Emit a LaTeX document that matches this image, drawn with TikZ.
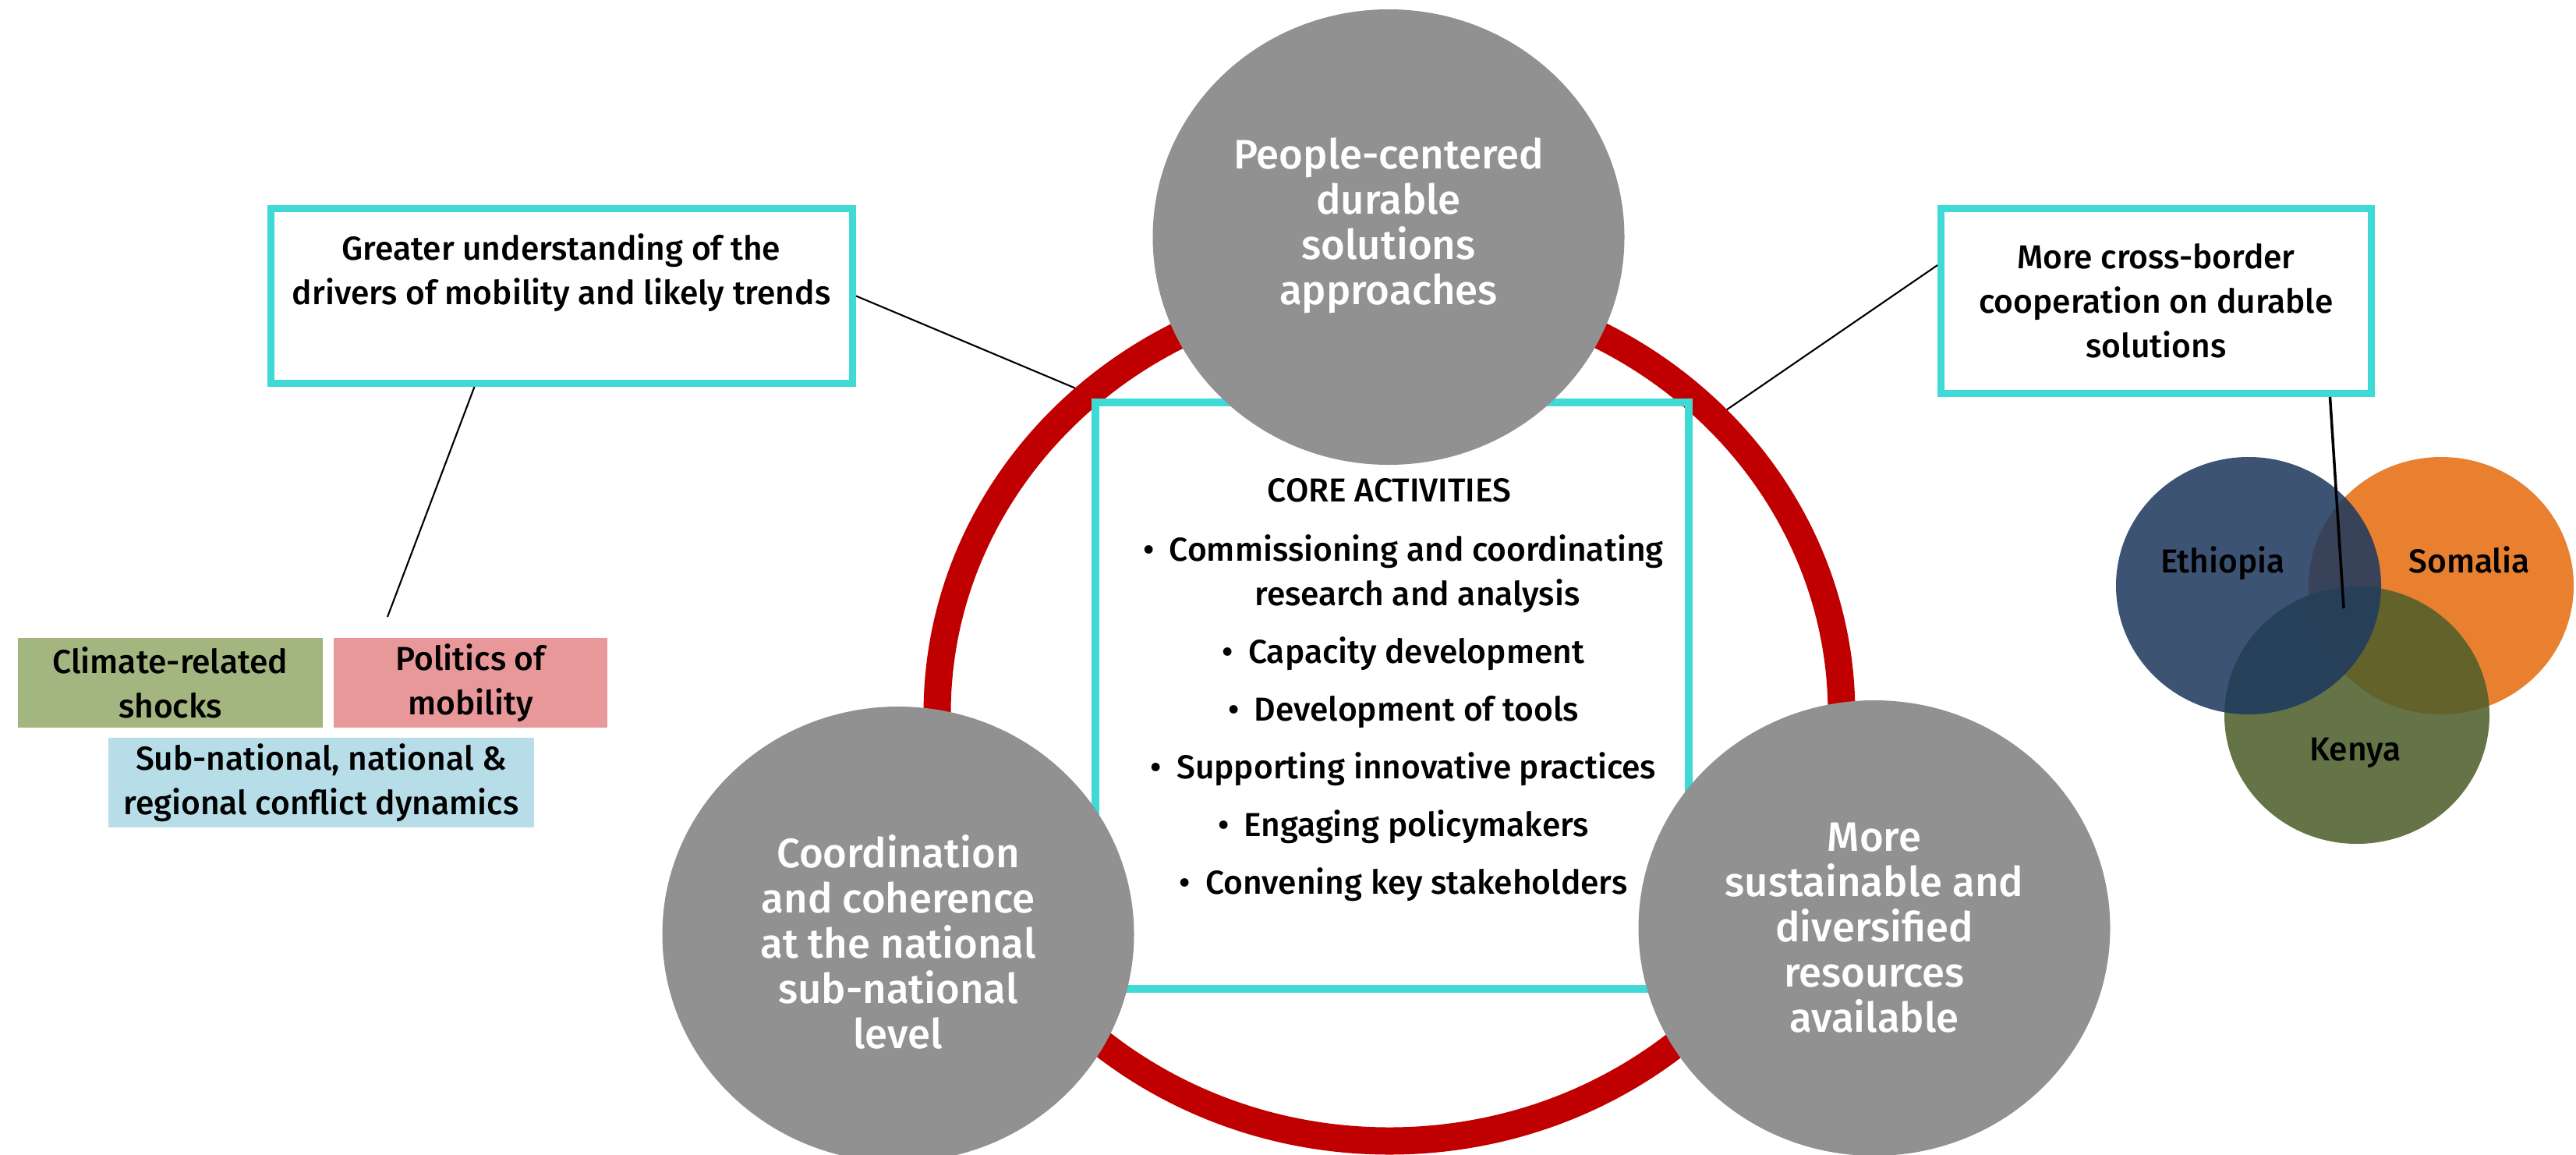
\documentclass[tikz,border=0pt]{standalone}
\usepackage{fontspec}
\setmainfont{Fira Sans}[UprightFont={* Medium}]
\usepackage{tikz}
\usetikzlibrary{shapes.geometric}

\definecolor{ringred}{HTML}{C00000}
\definecolor{boxcyan}{HTML}{3FD9D6}
\definecolor{bubblegray}{HTML}{919191}
\definecolor{climategreen}{HTML}{A4B67F}
\definecolor{politicspink}{HTML}{E99899}
\definecolor{conflictblue}{HTML}{B7DDE8}
\definecolor{ethcol}{HTML}{1F3A5F}
\definecolor{somcol}{HTML}{E56D11}
\definecolor{kencol}{HTML}{4E5F2A}
\newcommand{\diagfont}{\fontsize{12.1}{16.2}\selectfont}

\begin{document}
\begin{tikzpicture}[
		bubble/.style={ellipse, fill=bubblegray, minimum width=6.05cm, minimum height=5.84cm, inner sep=0pt},
		bubbletext/.style={inner sep=0pt, align=center, text=white, font=\fontsize{15}{16.5}\selectfont},
		outcome/.style={draw=boxcyan, line width=0.09cm, fill=white, inner sep=0pt, align=center, font=\diagfont},
		driver/.style={minimum height=1.15cm, inner sep=0pt, align=center, font=\diagfont},
		venn/.style={ellipse, minimum width=3.40cm, minimum height=3.30cm, inner sep=0pt, fill opacity=0.87},
		country/.style={anchor=base, inner sep=0pt, font=\diagfont},
		txt/.style={inner sep=0pt, align=center, font=\diagfont},
		link/.style={line width=0.6pt}
	]
			\useasboundingbox (0,0) rectangle (33.04,-14.80);
			\clip (0,0) rectangle (33.04,-14.80);
			
			% Red ring
			\node[ellipse, draw=ringred, line width=0.35cm, outer sep=0.175cm, inner sep=0pt, minimum width=11.60cm, minimum height=10.96cm] (ring) at (17.82,-9.15) {};
			
			% Core activities
			\node[draw=boxcyan, line width=0.10cm, inner sep=0pt, minimum width=7.61cm, minimum height=7.52cm] (core) at (17.855,-8.92) {};
			\node[txt, anchor=base] (coretitle) at (17.82,-6.43) {CORE ACTIVITIES};
			\node[txt, anchor=north] (corelist) at (18.00,-6.79) {\strut•\hspace{0.45em}Commissioning and coordinating\\
				\hspace*{0.36cm}research and analysis\\[0.17cm]
				•\hspace{0.45em}Capacity development\\[0.17cm]
				•\hspace{0.45em}Development of tools\\[0.17cm]
				•\hspace{0.45em}Supporting innovative practices\\[0.17cm]
				•\hspace{0.45em}Engaging policymakers\\[0.17cm]
				•\hspace{0.45em}Convening key stakeholders};
			
			% Outcome circles
			\node[bubble] (people) at (17.81,-3.04) {};
			\node[bubble] (coord) at (11.52,-11.98) {};
			\node[bubble] (resources) at (24.04,-11.90) {};
			\node[bubbletext] (peopletext) at ([yshift=0.15cm]people) {People-centered\\durable\\solutions\\approaches};
			\node[bubbletext] (coordtext) at ([yshift=-0.10cm]coord) {Coordination\\and coherence\\at the national\\sub-national\\level};
			\node[bubbletext] (resourcestext) at (resources) {More\\sustainable and\\diversified\\resources\\available};
			
			% Outcome boxes
			\node[outcome, minimum width=7.46cm, minimum height=2.24cm] (lbox) at (7.205,-3.795) {};
			\node[txt, anchor=north] (drvtext) at (7.20,-2.93) {\strut Greater understanding of the\\drivers of mobility and likely trends};
			\node[outcome, minimum width=5.52cm, minimum height=2.37cm] (rbox) at (27.655,-3.86) {More cross-border\\cooperation on durable\\solutions};
			
			% Drivers of mobility
			\node[driver, fill=climategreen, minimum width=3.91cm] (climate) at (2.185,-8.755) {Climate-related\\shocks};
			\node[driver, fill=politicspink, minimum width=3.51cm] (politics) at (6.035,-8.755) {Politics of\\mobility};
			\node[driver, fill=conflictblue, minimum width=5.46cm] (conflict) at (4.12,-10.035) {Sub-national, national \&\\regional conflict dynamics};
			
			% Countries
			\foreach \cname/\cx/\cy/\ccol in {somalia/31.31/-7.51/somcol, kenya/30.23/-9.17/kencol, ethiopia/28.84/-7.51/ethcol} {
				\node[venn, fill=\ccol] (\cname) at (\cx,\cy) {};
			}
			\node[country] (ethlabel) at (28.51,-7.34) {Ethiopia};
			\node[country] (somlabel) at (31.67,-7.34) {Somalia};
			\node[country] (kenlabel) at (30.21,-9.75) {Kenya};
			
			% Connectors
			\coordinate (drvend) at (4.97,-7.91);
			\coordinate (vennmid) at (30.06,-7.80);
			\draw[link] (lbox.east) -- (ring.134);
			\draw[link] ([xshift=-1.12cm]lbox.south) -- (drvend);
			\draw[link] ([yshift=0.46cm]rbox.west) -- (ring.42);
			\draw[link, line width=1pt] ([xshift=2.23cm]rbox.south) -- (vennmid);
			
		\end{tikzpicture}
\end{document}
